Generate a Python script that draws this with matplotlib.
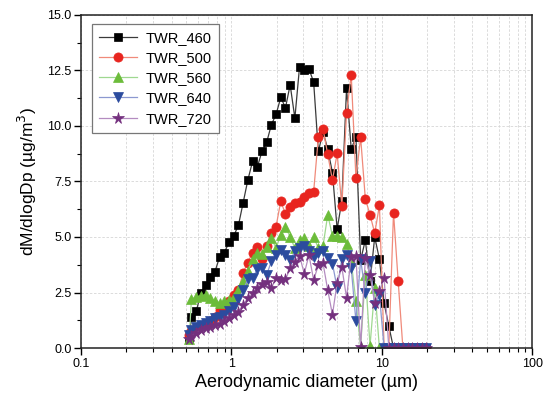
import matplotlib
matplotlib.use("Agg")
import matplotlib.pyplot as plt
import numpy as np
from matplotlib.ticker import FixedLocator, MultipleLocator, FuncFormatter, LogLocator

plt.rcParams["font.family"] = ["Liberation Sans", "DejaVu Sans"]

# aerodynamic diameter channels (um)
diam = [0.523, 0.542, 0.583, 0.626, 0.673, 0.723, 0.777, 0.835, 0.898, 0.965,
        1.037, 1.114, 1.197, 1.286, 1.382, 1.486, 1.596, 1.715, 1.843, 1.981,
        2.129, 2.288, 2.458, 2.642, 2.839, 3.051, 3.278, 3.523, 3.786, 4.068,
        4.371, 4.698, 5.048, 5.425, 5.829, 6.264, 6.732, 7.234, 7.774, 8.354,
        8.977, 9.647, 10.37, 11.14, 11.97, 12.86, 13.82, 14.86, 15.96, 17.15,
        18.43, 19.81]

twr_460 = [0.4, 1.4, 1.65, 2.47, 2.84, 3.2, 3.44, 4.11, 4.29, 4.79,
           5.05, 5.54, 6.55, 7.57, 8.4, 8.15, 8.85, 9.26, 10.05, 10.52,
           11.28, 10.82, 11.85, 10.35, 12.67, 12.52, 12.57, 11.97, 8.85, 9.74,
           8.95, 7.9, 5.35, 6.63, 11.7, 8.96, 9.5, 3.96, 4.86, 3.0,
           5.0, 4.0, 2.01, 0.99, 0, 0, 0, 0, 0, 0,
           0, 0]

twr_500 = [0.6, 0.75, 0.9, 1.0, 1.1, 1.2, 1.4, 1.7, 1.85, 2.1,
           2.4, 2.6, 3.4, 3.85, 4.3, 4.55, 4.0, 4.6, 5.2, 5.47,
           6.62, 6.02, 6.34, 6.52, 6.59, 6.81, 6.97, 7.04, 9.5, 9.86,
           8.72, 7.55, 8.76, 6.38, 10.6, 12.3, 7.65, 9.48, 6.72, 6.0,
           5.17, 6.42, 0, 0, 6.1, 3.0, 0, 0, 0, 0,
           0, 0]

twr_560 = [0.4, 2.2, 2.3, 2.35, 2.4, 2.25, 2.1, 2.05, 2.1, 2.15,
           2.3, 2.6, 3.0, 3.45, 4.0, 4.3, 4.25, 4.56, 4.95, 4.5,
           5.1, 5.45, 5.0, 4.5, 4.86, 4.97, 4.6, 5.0, 4.5, 4.6,
           6.0, 5.05, 5.05, 5.0, 4.7, 3.9, 2.1, 0.05, 3.3, 0.1,
           2.7, 0, 0, 0, 0, 0, 0, 0, 0, 0,
           0, 0]

twr_640 = [0.6, 0.8, 0.95, 1.05, 1.15, 1.2, 1.35, 1.4, 1.5, 1.65,
           1.85, 2.2, 2.6, 3.1, 3.15, 3.55, 3.6, 3.3, 3.9, 4.2,
           4.4, 4.2, 3.95, 4.35, 4.5, 4.6, 4.35, 4.1, 4.3, 4.35,
           4.05, 3.8, 2.7, 4.0, 4.2, 3.6, 1.2, 4.0, 2.46, 3.9,
           1.95, 2.4, 0, 0, 0, 0, 0, 0, 0, 0,
           0, 0]

twr_720 = [0.4, 0.55, 0.7, 0.8, 0.9, 0.95, 1.05, 1.1, 1.2, 1.35,
           1.5, 1.64, 1.95, 2.24, 2.46, 2.69, 2.9, 2.99, 2.7, 3.14,
           3.06, 3.09, 3.59, 3.89, 4.15, 3.35, 4.19, 3.06, 3.74, 3.81,
           2.61, 1.5, 2.95, 3.64, 2.27, 4.11, 4.15, 0.06, 4.04, 3.3,
           2.01, 2.57, 3.15, 0, 0, 0, 0, 0, 0, 0,
           0, 0]

series = [
    ("TWR_460", twr_460, "s", "#000000", "#3a3a3a"),
    ("TWR_500", twr_500, "o", "#e8251f", "#f08a7a"),
    ("TWR_560", twr_560, "^", "#6cbc3a", "#9fd890"),
    ("TWR_640", twr_640, "v", "#2b4b9e", "#8c98d0"),
    ("TWR_720", twr_720, "*", "#74307e", "#b48cc0"),
]

fig = plt.figure(figsize=(5.48, 4.01), dpi=100)
ax = fig.add_axes([0.148, 0.132, 0.823, 0.831])

for name, vals, mk, mcol, lcol in series:
    ms = {"s": 6.0, "o": 6.6, "^": 6.6, "v": 6.6, "*": 8.5}[mk]
    ax.plot(diam, vals, color=lcol, lw=0.9, marker=mk, ms=ms,
            markerfacecolor=mcol, markeredgecolor=mcol, mew=0.5, label=name)

ax.set_xscale("log")
ax.set_xlim(0.1, 100)
ax.set_ylim(0, 15)
ax.xaxis.set_major_locator(FixedLocator([0.1, 1, 10, 100]))
ax.xaxis.set_major_formatter(FuncFormatter(lambda v, p: f"{v:g}"))
ax.xaxis.set_minor_locator(LogLocator(base=10, subs=np.arange(2, 10), numticks=20))
ax.xaxis.set_minor_formatter(FuncFormatter(lambda v, p: ""))
ax.yaxis.set_major_locator(MultipleLocator(2.5))
ax.yaxis.set_minor_locator(MultipleLocator(1.25))
ax.yaxis.set_major_formatter(FuncFormatter(lambda v, p: f"{v:.1f}"))

ax.tick_params(which="major", direction="out", length=5, width=1, labelsize=9, pad=2)
ax.tick_params(which="minor", direction="out", length=3, width=0.8)
ax.tick_params(top=False, right=False, which="both")

ax.grid(True, which="major", axis="y", color="#d6d6d6", ls=(0, (3, 2)), lw=0.6)
ax.grid(True, which="both", axis="x", color="#d6d6d6", ls=(0, (3, 2)), lw=0.6)
ax.set_axisbelow(True)

for sp in ax.spines.values():
    sp.set_linewidth(1.1)
    sp.set_color("#222222")

ax.set_xlabel("Aerodynamic diameter (\u00b5m)", fontsize=13, labelpad=3)
ax.set_ylabel("dM/dlogDp (\u00b5g/m$^3$)", fontsize=12.5, labelpad=6)

leg = ax.legend(loc="upper left", bbox_to_anchor=(0.024, 0.973), borderaxespad=0,
                fontsize=10.5, fancybox=False, edgecolor="#777777", framealpha=1,
                handlelength=2.6, borderpad=0.5, labelspacing=0.42,
                handletextpad=0.6)
leg.get_frame().set_linewidth(0.9)

fig.savefig("out.png", dpi=100)
